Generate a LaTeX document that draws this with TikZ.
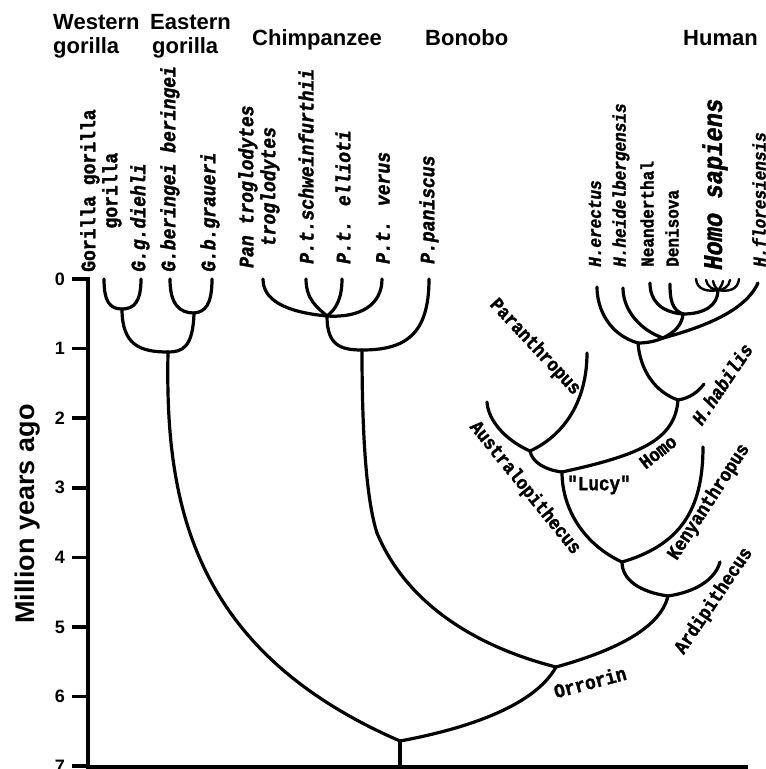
\documentclass[tikz,border=0pt]{standalone}
\usepackage{fontspec}
\setmainfont{Liberation Sans}
\newfontfamily\monof[FakeStretch=0.88,FakeBold=1.5]{Liberation Mono}
\begin{document}
\begin{tikzpicture}[x=1pt,y=-1pt,
 br/.style={line width=3.2pt, line cap=round, line join=round},
 fan/.style={line width=2.4pt, line cap=round},
 sp/.style={font=\monof\bfseries\itshape\fontsize{20.5}{22}\selectfont, rotate=90, anchor=west, inner sep=0pt, align=center},
 spu/.style={sp, font=\monof\bfseries\fontsize{20.5}{22}\selectfont},
 hs/.style={font=\monof\bfseries\itshape\fontsize{18.2}{19}\selectfont, rotate=90, anchor=west, inner sep=0pt},
 hsu/.style={hs, font=\monof\bfseries\fontsize{18.2}{19}\selectfont},
 dg/.style={font=\monof\bfseries\fontsize{19.5}{20}\selectfont, inner sep=0pt},
 dgi/.style={font=\monof\bfseries\itshape\fontsize{19.5}{20}\selectfont, inner sep=0pt},
 hd/.style={font=\bfseries\fontsize{22}{24}\selectfont, anchor=base west, inner sep=0pt},
 tk/.style={font=\bfseries\fontsize{18}{20}\selectfont, anchor=east, inner sep=0pt}]
\useasboundingbox (0,0) rectangle (766,769);

% headings
\node[hd] (hW1) at (53,29) {Western};
\node[hd] (hW2) at (53,53) {gorilla};
\node[hd] (hE1) at (150,29) {Eastern};
\node[hd] (hE2) at (152,53) {gorilla};
\node[hd] (hC) at (252,45) {Chimpanzee};
\node[hd] (hB) at (425,45) {Bonobo};
\node[hd] (hH) at (683,45) {Human};

% axis
\coordinate (ax0) at (88,277);
\coordinate (axc) at (88,767);
\coordinate (axe) at (748,767);
\draw[line width=4pt] (ax0) -- (axc) -- (axe);
\foreach \k in {0,...,7}{
  \coordinate (t\k) at (88,{279+69.6*\k});
  \coordinate (tl\k) at (72,{279+69.6*\k});
  \draw[line width=3.5pt] (tl\k) -- (t\k);
  \node[tk] (n\k) at (65,{279+69.6*\k}) {\k};
}
\node[font=\bfseries\fontsize{27}{30}\selectfont, rotate=90, inner sep=0pt] (ylab) at (28,514) {Million years ago};

% species labels
\node[spu] (lGg) at (101,272) {Gorilla gorilla\\gorilla};
\node[sp] (lGd) at (140,272) {G.g.diehli};
\node[sp] (lGb) at (170,272) {G.beringei beringei};
\node[sp] (lGr) at (210,272) {G.b.graueri};
\node[sp] (lPt) at (259,268) {Pan troglodytes\\troglodytes};
\node[sp] (lPs) at (306,264) {P.t.schweinfurthii};
\node[sp] (lPe) at (343,264) {P.t. ellioti};
\node[sp] (lPv) at (383,264) {P.t. verus};
\node[sp] (lPp) at (429,264) {P.paniscus};
\node[hs] (lHe) at (595,267) {H.erectus};
\node[hs] (lHh) at (621,267) {H.heidelbergensis};
\node[hsu] (lNe) at (647,267) {Neanderthal};
\node[hsu] (lDe) at (672,267) {Denisova};
\node[font=\monof\bfseries\itshape\fontsize{27}{28}\selectfont, rotate=90, anchor=west, inner sep=0pt] (lHs) at (715,270) {Homo sapiens};
\node[hs] (lHf) at (759,267) {H.floresiensis};

% diagonal labels
\node[dg, rotate=-47] (lPa) at (535,347) {Paranthropus};
\node[dg, rotate=-51] (lAu) at (525,488) {Australopithecus};
\node[dg, rotate=38] (lHo) at (658,452) {Homo};
\node[font=\monof\bfseries\fontsize{20}{20}\selectfont, inner sep=0pt] (lLu) at (599,485) {"Lucy"};
\node[dg, rotate=57] (lKe) at (709,502) {Kenyanthropus};
\node[dg, rotate=56] (lAr) at (714,601) {Ardipithecus};
\node[font=\monof\bfseries\fontsize{20}{20}\selectfont, inner sep=0pt, rotate=15] (lOr) at (590,682) {Orrorin};
\node[dgi, rotate=56] (lHa) at (722,384) {H.habilis};

% tree coordinates
\coordinate (gA) at (104,279); \coordinate (gB) at (141,279);
\coordinate (gC) at (170,279); \coordinate (gD) at (212,279);
\coordinate (g1) at (122,309); \coordinate (g2) at (194,313);
\coordinate (g0) at (168,352);
\coordinate (cA) at (263,279); \coordinate (cB) at (306,279);
\coordinate (cC) at (342,279); \coordinate (cD) at (382,279);
\coordinate (cE) at (429,279);
\coordinate (c1) at (327,316); \coordinate (c0) at (362,350);
\coordinate (ck) at (377,533);
\coordinate (root) at (400,741); \coordinate (rb) at (400,767);
\coordinate (o) at (556,667);
\coordinate (a) at (668,596); \coordinate (ardi) at (720,562);
\coordinate (k) at (622,562); \coordinate (ken) at (703,447);
\coordinate (lu) at (562,472); \coordinate (pn) at (530,451);
\coordinate (aus) at (487,402); \coordinate (par) at (587,353);
\coordinate (hh) at (678,400); \coordinate (habt) at (704,384);
\coordinate (H0) at (638,343); \coordinate (er) at (597,287);
\coordinate (H1) at (663,338); \coordinate (hei) at (623,288);
\coordinate (flo) at (758,283); \coordinate (H2) at (683,314);
\coordinate (nea) at (650,283); \coordinate (den) at (670,284);
\coordinate (H3) at (718,290);
\coordinate (s1) at (696,279); \coordinate (s2) at (706,280);
\coordinate (s3) at (713,281); \coordinate (s4) at (723,281);
\coordinate (s5) at (730,280); \coordinate (s6) at (739,279);

% gorillas
\draw[br] (gA) .. controls (104,302) and (110,309) .. (g1);
\draw[br] (gB) .. controls (141,302) and (134,309) .. (g1);
\draw[br] (gC) .. controls (170,305) and (180,313) .. (g2);
\draw[br] (gD) .. controls (212,305) and (205,312) .. (g2);
\draw[br] (g1) .. controls (122,345) and (140,352) .. (g0);
\draw[br] (g2) .. controls (193,348) and (182,352) .. (g0);
\draw[br] (g0) .. controls (165,500) and (190,650) .. (root);
% chimps
\draw[br] (cA) .. controls (263,300) and (285,312) .. (c1);
\draw[br] (cB) .. controls (306,300) and (318,308) .. (c1);
\draw[br] (cC) .. controls (342,300) and (335,310) .. (c1);
\draw[br] (cD) .. controls (382,305) and (360,318) .. (c1);
\draw[br] (c1) .. controls (327,345) and (340,350) .. (c0);
\draw[br] (cE) .. controls (429,335) and (405,350) .. (c0);
\draw[br] (c0) .. controls (362,450) and (368,505) .. (ck);
\draw[br] (ck) .. controls (405,600) and (470,645) .. (o);
% root
\draw[br] (root) -- (rb);
\draw[br] (root) .. controls (470,728) and (535,705) .. (o);
% hominins
\draw[br] (o) .. controls (610,652) and (660,630) .. (a);
\draw[br] (a) .. controls (695,592) and (715,580) .. (ardi);
\draw[br] (a) .. controls (640,592) and (622,580) .. (k);
\draw[br] (k) .. controls (680,545) and (703,510) .. (ken);
\draw[br] (k) .. controls (585,545) and (562,510) .. (lu);
\draw[br] (lu) .. controls (640,455) and (675,440) .. (hh);
\draw[br] (lu) .. controls (545,470) and (532,462) .. (pn);
\draw[br] (pn) .. controls (505,440) and (488,420) .. (aus);
\draw[br] (pn) .. controls (565,435) and (587,400) .. (par);
\draw[br] (hh) .. controls (690,398) and (698,392) .. (habt);
\draw[br] (hh) .. controls (655,392) and (640,370) .. (H0);
\draw[br] (H0) .. controls (610,335) and (597,310) .. (er);
\draw[br] (H0) .. controls (648,343) and (656,341) .. (H1);
\draw[br] (H1) .. controls (640,330) and (623,310) .. (hei);
\draw[br] (H1) .. controls (700,328) and (745,312) .. (flo);
\draw[br] (H1) .. controls (675,332) and (682,325) .. (H2);
\draw[br] (H2) .. controls (660,312) and (650,300) .. (nea);
\draw[br] (H2) .. controls (672,310) and (670,300) .. (den);
\draw[br] (H2) .. controls (705,314) and (718,305) .. (H3);
% sapiens fan
\draw[fan] (s1) .. controls (697,290) and (708,292) .. (H3);
\draw[fan] (s2) .. controls (707,287) and (714,290) .. (H3);
\draw[fan] (s3) .. controls (714,286) and (717,289) .. (H3);
\draw[fan] (s4) .. controls (722,286) and (719,289) .. (H3);
\draw[fan] (s5) .. controls (729,287) and (723,290) .. (H3);
\draw[fan] (s6) .. controls (738,290) and (728,292) .. (H3);
\end{tikzpicture}
\end{document}
